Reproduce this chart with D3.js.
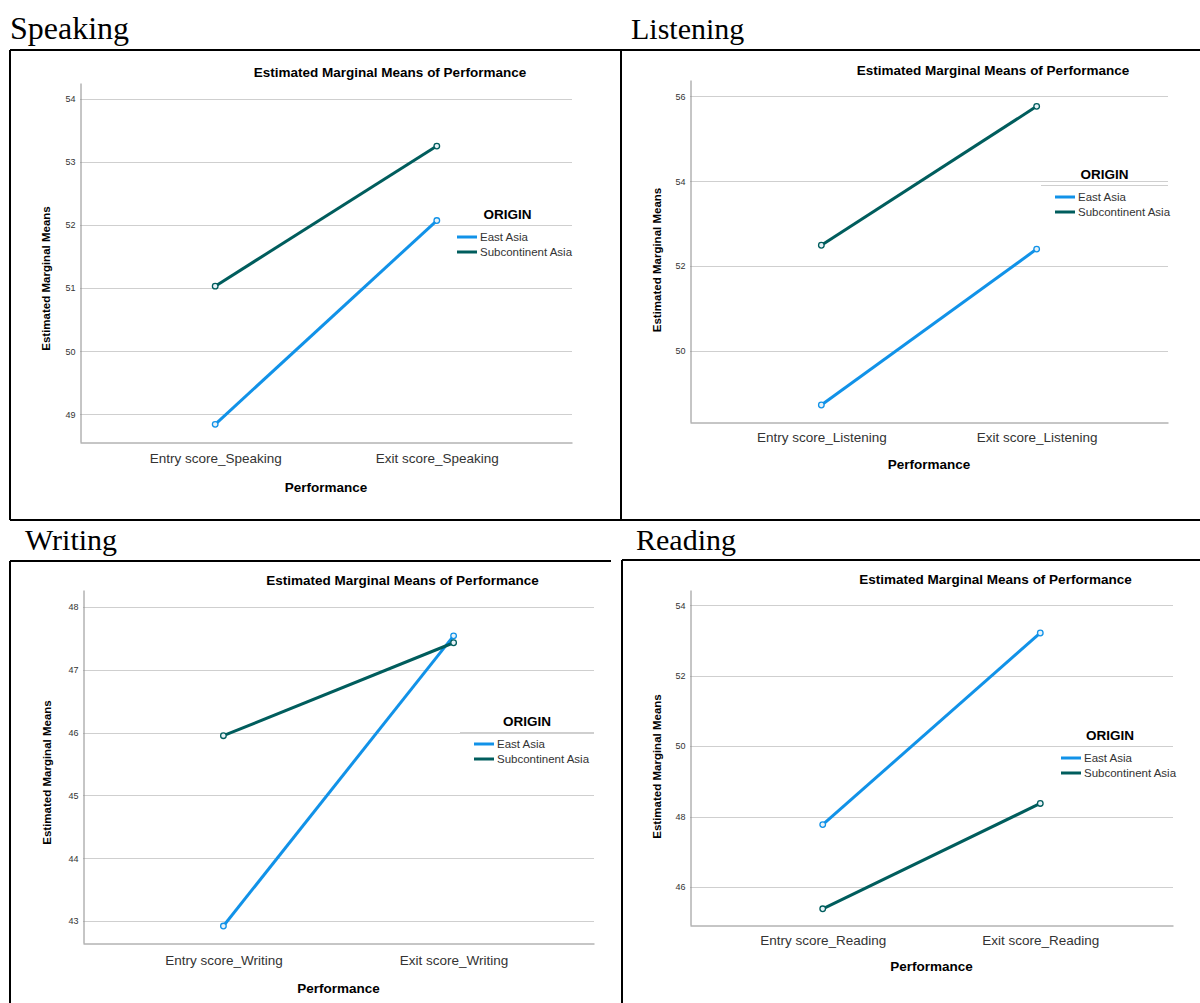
<!DOCTYPE html>
<html>
<head>
<meta charset="utf-8">
<script src="https://cdn.jsdelivr.net/npm/d3@7"></script>
<style>
  body { margin: 0; background: #fff; }
  svg { display: block; }
</style>
</head>
<body>
<svg id="chart" width="1200" height="1003"></svg>
<script>
var width = 1200
var height = 1003

// data
var groups = ["East Asia", "Subcontinent Asia"]
var colors = ["#1192e8", "#005d5d"]

var speakingCats = ["Entry score_Speaking", "Exit score_Speaking"]
var speakingEast = [48.84, 52.07]
var speakingSub = [51.03, 53.25]
var speakingTicks = [49, 50, 51, 52, 53, 54]

var listeningCats = ["Entry score_Listening", "Exit score_Listening"]
var listeningEast = [48.73, 52.40]
var listeningSub = [52.49, 55.76]
var listeningTicks = [50, 52, 54, 56]

var writingCats = ["Entry score_Writing", "Exit score_Writing"]
var writingEast = [42.92, 47.54]
var writingSub = [45.95, 47.43]
var writingTicks = [43, 44, 45, 46, 47, 48]

var readingCats = ["Entry score_Reading", "Exit score_Reading"]
var readingEast = [47.77, 53.21]
var readingSub = [45.38, 48.37]
var readingTicks = [46, 48, 50, 52, 54]

var svg = d3.select("#chart")
var sans = "Liberation Sans, Arial, sans-serif"

// frame lines around the panels
var frame = svg.append("g").attr("stroke", "#000").attr("stroke-width", 2)
frame.append("line").attr("x1", 10).attr("x2", 1200).attr("y1", 50).attr("y2", 50)
frame.append("line").attr("x1", 10).attr("x2", 1200).attr("y1", 520).attr("y2", 520)
frame.append("line").attr("x1", 10).attr("x2", 10).attr("y1", 50).attr("y2", 520)
frame.append("line").attr("x1", 621).attr("x2", 621).attr("y1", 50).attr("y2", 520)
frame.append("line").attr("x1", 10).attr("x2", 611).attr("y1", 561).attr("y2", 561)
frame.append("line").attr("x1", 622).attr("x2", 1200).attr("y1", 560).attr("y2", 560)
frame.append("line").attr("x1", 10).attr("x2", 10).attr("y1", 561).attr("y2", 1003)
frame.append("line").attr("x1", 622).attr("x2", 622).attr("y1", 560).attr("y2", 1003)

var panels = [
  { name: "Speaking", nx: 10, ny: 39, nsize: 32, cats: speakingCats, east: speakingEast, sub: speakingSub,
    ticks: speakingTicks, domain: [48.56, 54.25],
    left: 80, right: 572, top: 83, bottom: 442, titleY: 77, tickY: 462, perfY: 492, ylabX: 50, ylabShift: 16,
    legX: 443, legY: 219 },
  { name: "Listening", nx: 631, ny: 39, nsize: 30, cats: listeningCats, east: listeningEast, sub: listeningSub,
    ticks: listeningTicks, domain: [48.33, 56.38],
    left: 690, right: 1168, top: 80, bottom: 422, titleY: 75, tickY: 441, perfY: 469, ylabX: 661, ylabShift: 9,
    legX: 1041, legY: 179 },
  { name: "Writing", nx: 25, ny: 550, nsize: 30, cats: writingCats, east: writingEast, sub: writingSub,
    ticks: writingTicks, domain: [42.65, 48.27],
    left: 83, right: 594, top: 590, bottom: 943, titleY: 585, tickY: 964, perfY: 993, ylabX: 51, ylabShift: 6,
    legX: 460, legY: 726 },
  { name: "Reading", nx: 636, ny: 550, nsize: 30, cats: readingCats, east: readingEast, sub: readingSub,
    ticks: readingTicks, domain: [44.92, 54.43],
    left: 690, right: 1173, top: 590, bottom: 925, titleY: 584, tickY: 944, perfY: 971, ylabX: 661, ylabShift: 9,
    legX: 1047, legY: 740 }
]

panels.forEach(drawPanel)

function drawPanel(p) {
  var g = svg.append("g")

  g.append("text")
    .attr("x", p.nx)
    .attr("y", p.ny)
    .style("font-family", "Liberation Serif, Times New Roman, serif")
    .style("font-size", p.nsize + "px")
    .text(p.name)

  var x = d3.scalePoint()
    .domain(p.cats)
    .range([p.left, p.right])
    .padding(0.61)

  var y = d3.scaleLinear()
    .domain(p.domain)
    .range([p.bottom, p.top])

  // gridlines
  g.append("g")
    .selectAll("line")
    .data(p.ticks)
    .enter()
    .append("line")
      .attr("x1", p.left)
      .attr("x2", p.right)
      .attr("y1", d => Math.round(y(d)) + 0.5)
      .attr("y2", d => Math.round(y(d)) + 0.5)
      .attr("stroke", "#cfcfcf")
      .attr("stroke-width", 1)

  var yAxis = g.append("g")
    .attr("transform", "translate(" + (p.left + 0.5) + ",0)")
    .call(d3.axisLeft(y).tickValues(p.ticks).tickSize(0).tickPadding(5).tickFormat(d3.format("d")))
  yAxis.select(".domain").attr("stroke", "#8c8c8c")
  yAxis.selectAll("text")
    .style("font-family", sans)
    .style("font-size", "9px")
    .attr("fill", "#333")

  var xAxis = g.append("g")
    .attr("transform", "translate(0," + (p.bottom + 0.5) + ")")
    .call(d3.axisBottom(x).tickSize(0).tickPadding(0))
  xAxis.select(".domain").attr("stroke", "#8c8c8c")
  xAxis.selectAll("text")
    .attr("y", p.tickY - p.bottom)
    .attr("dy", null)
    .style("font-family", sans)
    .style("font-size", "13.5px")
    .attr("fill", "#333")

  g.append("text")
    .attr("x", (p.left + p.right) / 2 + 64)
    .attr("y", p.titleY)
    .attr("text-anchor", "middle")
    .style("font-family", sans)
    .style("font-size", "13.5px")
    .style("font-weight", "bold")
    .text("Estimated Marginal Means of Performance")

  g.append("text")
    .attr("x", (p.left + p.right) / 2)
    .attr("y", p.perfY)
    .attr("text-anchor", "middle")
    .style("font-family", sans)
    .style("font-size", "13.5px")
    .style("font-weight", "bold")
    .text("Performance")

  g.append("text")
    .attr("transform", "translate(" + p.ylabX + "," + ((p.top + p.bottom) / 2 + p.ylabShift) + ") rotate(-90)")
    .attr("text-anchor", "middle")
    .style("font-family", sans)
    .style("font-size", "11.5px")
    .style("font-weight", "bold")
    .text("Estimated Marginal Means")

  var series = [p.east, p.sub]
  var line = d3.line()
    .x((d, i) => x(p.cats[i]))
    .y(d => y(d))

  series.forEach(function(vals, k) {
    g.append("path")
      .datum(vals)
      .attr("d", line)
      .attr("fill", "none")
      .attr("stroke", colors[k])
      .attr("stroke-width", 3)

    g.append("g")
      .selectAll("circle")
      .data(vals)
      .enter()
      .append("circle")
        .attr("cx", (d, i) => x(p.cats[i]))
        .attr("cy", d => y(d))
        .attr("r", 2.8)
        .attr("fill", "#e8f2f8")
        .attr("stroke", colors[k])
        .attr("stroke-width", 1.3)
  })

  // legend
  var leg = g.append("g")
  leg.append("text")
    .attr("x", (p.legX + p.right) / 2)
    .attr("y", p.legY)
    .attr("text-anchor", "middle")
    .style("font-family", sans)
    .style("font-size", "13.5px")
    .style("font-weight", "bold")
    .text("ORIGIN")
  leg.append("line")
    .attr("x1", p.legX)
    .attr("x2", p.right)
    .attr("y1", p.legY + 6.5)
    .attr("y2", p.legY + 6.5)
    .attr("stroke", "#cfcfcf")

  groups.forEach(function(name, k) {
    var yy = p.legY + 18 + k * 15
    leg.append("line")
      .attr("x1", p.legX + 14)
      .attr("x2", p.legX + 34)
      .attr("y1", yy)
      .attr("y2", yy)
      .attr("stroke", colors[k])
      .attr("stroke-width", 3)
    leg.append("text")
      .attr("x", p.legX + 37)
      .attr("y", yy + 4)
      .style("font-family", sans)
      .style("font-size", "11.5px")
      .attr("fill", "#333")
      .text(name)
  })
}
</script>
</body>
</html>
